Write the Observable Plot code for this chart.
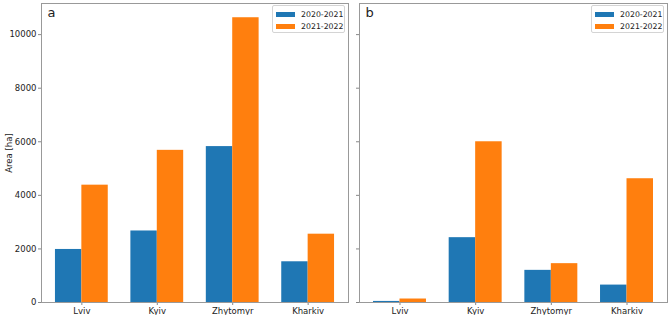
<!DOCTYPE html>
<html>
<head>
<meta charset="utf-8">
<script src="https://cdn.jsdelivr.net/npm/d3@7"></script>
<script src="https://cdn.jsdelivr.net/npm/@observablehq/plot@0.6"></script>
<style>
  html, body { margin: 0; padding: 0; background: #fff; }
  #chart { position: relative; width: 669px; height: 315px; display: flex; font-family: "DejaVu Sans", sans-serif; }
  #chart svg { display: block; }
  .legend { position: absolute; top: 5px; width: 73px; height: 28px; border: 1px solid #d4d4d4; border-radius: 2px; background: rgba(255,255,255,0.85); font-size: 7.8px; color: #222; box-sizing: border-box; }
  .legend .row { position: absolute; left: 3px; height: 10px; display: flex; align-items: center; white-space: nowrap; }
  .legend .sw { width: 19px; height: 5px; margin-right: 6px; flex: none; }
</style>
</head>
<body>
<div id="chart"></div>
<script>
// Administrative regions and the two seasons compared
const regions = ["Lviv", "Kyiv", "Zhytomyr", "Kharkiv"];
const seasons = ["2020-2021", "2021-2022"];
const colors = ["#1f77b4", "#ff7f0e"];

// Panel a: area per region (ha)
const areaA_2020_2021 = [1980, 2670, 5820, 1520];
const areaA_2021_2022 = [4380, 5680, 10630, 2550];

// Panel b: area per region (ha)
const areaB_2020_2021 = [40, 2420, 1200, 650];
const areaB_2021_2022 = [130, 6000, 1450, 4620];

const yTicks = [0, 2000, 4000, 6000, 8000, 10000];

const barWidth = 0.35;
const allValues = [...areaA_2020_2021, ...areaA_2021_2022, ...areaB_2020_2021, ...areaB_2021_2022];
const yMax = d3.max(allValues) * 1.05;
const xPad = (regions.length - 1 + 2 * barWidth) * 0.05;
const xDomain = [-barWidth - xPad, regions.length - 1 + barWidth + xPad];

function rows(series) {
  const out = [];
  series.forEach((vals, s) => {
    vals.forEach((v, i) => out.push({region: regions[i], i, s, season: seasons[s], value: v}));
  });
  return out;
}

function panel(letter, series, opts) {
  const data = rows(series);
  return Plot.plot({
    width: opts.width,
    height: 315,
    marginLeft: opts.marginLeft,
    marginRight: opts.marginRight,
    marginTop: 3,
    marginBottom: 13,
    style: {fontFamily: "DejaVu Sans, sans-serif", fontSize: "8.5px", color: "#222", background: "white"},
    x: {domain: xDomain},
    y: {domain: [0, yMax]},
    color: {domain: seasons, range: colors},
    marks: [
      Plot.rectY(data, {
        x1: d => d.i + (d.s - 1) * barWidth,
        x2: d => d.i + d.s * barWidth,
        y: "value",
        fill: "season"
      }),
      Plot.axisX({ticks: regions.map((_, i) => i), tickFormat: i => regions[i], tickSize: 3, tickPadding: 2, stroke: "#888", label: null}),
      opts.showY
        ? Plot.axisY({ticks: yTicks, tickFormat: d => String(d), tickSize: 3, tickPadding: 2, stroke: "#888",
            label: "Area [ha]", labelAnchor: "center", labelOffset: 36, labelArrow: "none"})
        : Plot.axisY({ticks: yTicks, tickFormat: () => "", tickSize: 3, stroke: "#888", label: null}),
      Plot.frame({stroke: "#999"}),
      Plot.text([letter], {frameAnchor: "top-left", textAnchor: "start", lineAnchor: "top", dx: 6, dy: 4, fontSize: 13, fill: "#222"})
    ]
  });
}

const chart = document.getElementById("chart");
chart.append(panel("a", [areaA_2020_2021, areaA_2021_2022], {width: 352, marginLeft: 41, marginRight: 4, showY: true}));
chart.append(panel("b", [areaB_2020_2021, areaB_2021_2022], {width: 317, marginLeft: 7, marginRight: 2, showY: false}));

// Legends, one per panel
[272, 591].forEach(left => {
  const box = document.createElement("div");
  box.className = "legend";
  box.style.left = left + "px";
  seasons.forEach((s, k) => {
    const row = document.createElement("div");
    row.className = "row";
    row.style.top = (3 + k * 12) + "px";
    const sw = document.createElement("div");
    sw.className = "sw";
    sw.style.background = colors[k];
    const label = document.createElement("span");
    label.textContent = s;
    row.append(sw, label);
    box.append(row);
  });
  chart.append(box);
});
</script>
</body>
</html>
